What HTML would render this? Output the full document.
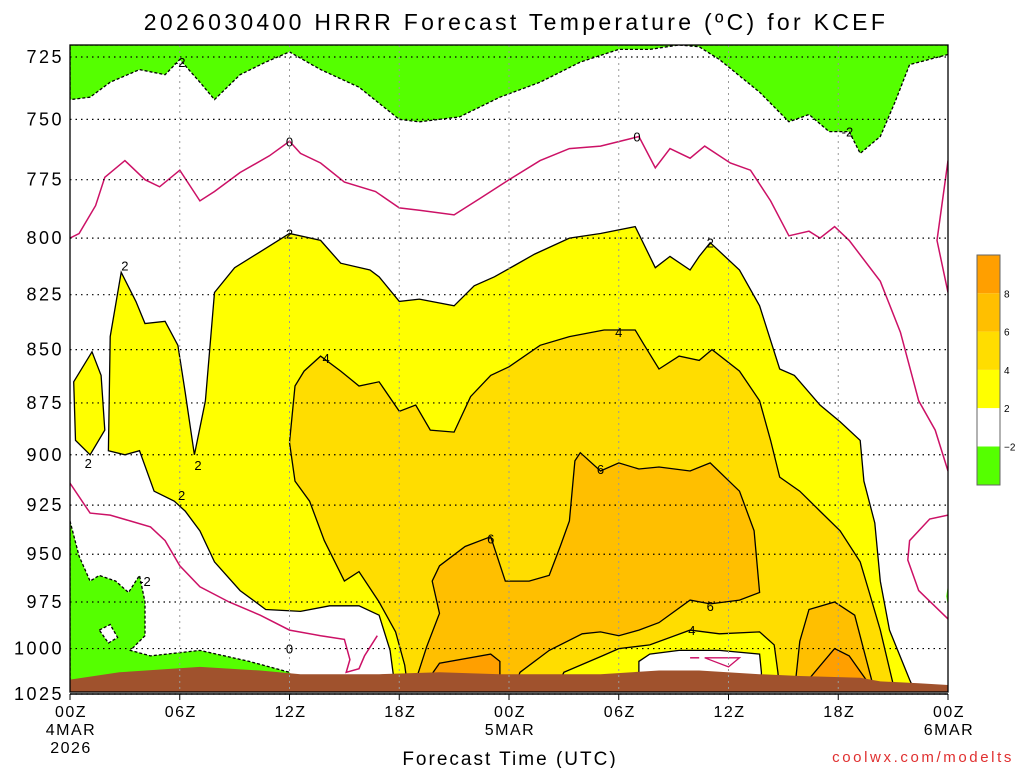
<!DOCTYPE html>
<html><head><meta charset="utf-8"><style>
body{margin:0;background:#fff;width:1024px;height:768px;overflow:hidden;font-family:"Liberation Sans",sans-serif}
svg text{font-family:"Liberation Sans",sans-serif}
</style></head><body>
<svg id="chart" width="1024" height="768" xmlns="http://www.w3.org/2000/svg">
<text x="516" y="30" font-size="23" text-anchor="middle" letter-spacing="3.3">2026030400 HRRR Forecast Temperature (ºC) for KCEF</text>
<text x="510" y="765" font-size="19" text-anchor="middle" letter-spacing="2">Forecast Time (UTC)</text>
<text x="1014" y="762" font-size="15" fill="#e03030" text-anchor="end" letter-spacing="2.6">coolwx.com/modelts</text>
</svg>
<script>
// ---- data (hours since 00Z 4MAR, pressure hPa) ----
const pTicks=[725,750,775,800,825,850,875,900,925,950,975,1000,1025];
const xTickHours=[0,6,12,18,24,30,36,42,48];
const xTickLabels=["00Z","06Z","12Z","18Z","00Z","06Z","12Z","18Z","00Z"];
const xTickSub=["4MAR","","","","5MAR","","","","6MAR"];
const greenTopH=[0,1.1,2.2,3.8,5.2,6,7.1,7.9,9.3,10.7,12,13.7,15.8,18,19.1,21.3,23.5,25.7,27.9,30,31.7,33.3,34.4,35.5,37.7,39.3,40.4,41.5,42.6,43.2,44.3,45.1,45.9,48];
const greenTopP=[742,741,735,730,732,726,735,742,732,727,723,730,737,750,751,749,741,735,727,722,722,720,721,726,739,751,748,755,755,764,757,743,728,724];
const zeroUpH=[0,0.5,1.4,1.9,3,4.1,4.9,6,7.1,7.9,9.3,10.9,12,12.6,13.7,15,16.7,18,19.1,21,22.4,24,25.7,27.3,29,30.6,31.1,32,32.8,33.9,34.7,36.1,37.2,38.3,39.3,40.4,41,41.8,42.6,44.3,45.4,46.4,47.3,48];
const zeroUpP=[800,798,786,774,767,775,778,771,784,780,772,765,759,764,768,776,780,787,788,790,783,775,767,762,761,758,757,770,762,766,761,768,771,784,799,797,800,795,801,819,842,874,888,908];
const zeroRightH=[48,47.4,48];
const zeroRightP=[767,801,824];
const zeroLowH=[0,1.1,2.2,3.3,4.4,5.2,6,7.1,8.7,10.4,12,13.7,15,15.3,15.1,15.8,16.1,16.8];
const zeroLowP=[914,929,930,933,936,943,956,967,975,982,990,993,995,1006,1013,1011,1004,993];
const zeroLowRH=[48,47,45.9,45.8,46.4,48];
const zeroLowRP=[930,932,943,953,969,984];
const yellowH=[17.8,17.5,16.9,15.8,14.2,12.6,10.7,9.3,7.9,7.1,6.3,5.7,4.6,3.8,3,2.1,2.2,2.8,3.6,4.1,5.2,5.9,6.3,6.8,7.4,7.7,7.9,9,10.4,12,13.7,14.8,16.4,16.9,18,19.1,21,22.1,23.2,24.3,25.4,27.3,29,30.9,32,32.8,33.9,34.4,35,36.6,37.7,38.8,39.6,41,42.1,43.2,43.4,44,44.3,44.8,45.9,46.2];
const yellowP=[1025,1001,982,977,977,980,979,969,954,938,928,923,918,898,900,898,844,815,828,838,837,848,870,900,874,844,824,813,806,798,801,811,814,817,828,827,830,821,817,812,807,800,798,795,813,808,814,808,802,814,830,859,862,876,884,893,913,934,964,990,1017,1025];
const islandH=[0.2,1.2,1.7,1.9,1.1,0.3];
const islandP=[865,851,862,888,900,893];
const gold4H=[18.5,18.3,17.8,16.9,15.8,15,13.9,13.1,12.3,12,12.3,12.8,13.7,14.8,15.8,16.9,18,18.9,19.7,21,21.9,23,24,25.7,27.3,29.2,30.9,31.4,32.2,33.3,34.4,35.1,36.6,37.7,38.3,38.8,39.9,41,42.1,43.2,43.7,44.3,45.1];
const gold4P=[1025,1009,991,975,959,964,943,923,913,894,867,860,853,860,867,865,879,876,888,889,872,862,858,848,844,841,841,848,859,853,855,850,860,874,893,911,918,928,938,954,970,990,1025];
const orange6H=[18.7,19.5,20.2,19.8,20.2,21.6,23,23.8,25.1,26.2,26.8,27.3,27.6,27.9,29,30,31.1,32.2,33.9,35,36.6,37.4,37.7,36.6,35,33.9,32.2,31.1,30,29,28,26.2,24.6,24.2];
const orange6P=[1024,999,981,964,956,946,941,964,964,961,946,933,903,899,908,904,907,906,908,904,918,938,970,974,976,974,986,990,993,991,992,1001,1013,1024];
const orangeRH=[39.6,39.9,40.4,41.8,42.9,43.4,44];
const orangeRP=[1025,996,979,975,982,1001,1025];
const inner4H=[26.5,27,29.1,30,31.7,33.9,35.5,37.7,38.5,38.7,38.8];
const inner4P=[1024,1013,1004,1000,998,990,992,991,998,1013,1024];
const inner2H=[31.1,31.1,31.7,33.3,35.5,37.7,37.8,37.8];
const inner2P=[1024,1007,1003,1001,1001,1003,1013,1024];
const loopH=[34.7,36.6,36];
const loopP=[1005,1005,1010];
const dashH=[33.9,34.4];
const dashP=[1005,1005];
const hot8aH=[19.1,20.2,23,23.5,23.5];
const hot8aP=[1024,1008,1003,1007,1024];
const hot8bH=[39.8,41.8,42.6,44];
const hot8bP=[1024,1000,1004,1024];
const greenLowH=[0,0.5,1.1,1.6,2.5,3.2,3.8,4.1,4.1,3.3,4.4,7.1,9.8,12,12.5,0];
const greenLowP=[933,951,964,961,964,970,961,975,993,1001,1004,1001,1007,1013,1024,1024];
const holeH=[1.6,2.2,2.6,2.1];
const holeP=[990,987,994,997];
const greenRH=[48,47.9,48];
const greenRP=[966,972,977];
const terrainH=[0,2.7,7.1,10.4,12.6,16.9,20.2,23.5,29,32.2,34.4,37.7,39.9,43.2,44.3,46.4,48];
const terrainP=[1017,1013,1010,1012,1014,1014,1013,1014,1014,1012,1012,1014,1015,1016,1018,1019,1020];
const labelText=["-2","-2","-2","0","0","0","2","2","2","2","2","2","4","4","4","6","6","6"];
const labelH=[6,4.1,42.5,12,31,12,3,1,7,6.1,12,35,14,30,34,23,29,35];
const labelP=[727,964,755,759,757,1000,812,904,905,920,798,802,854,842,990,942,907,977];
const legendVals=["8","6","4","2","−2"];
const legendColors=["#ff9f00","#ffbf00","#ffdd00","#ffff00","#ffffff","#55ff00"];

// ---- axes ----
const X0=70,X1=948,YT=45,YB=692;
const lnA=Math.log(725),lnB=Math.log(1025);
function xS(h){return X0+(X1-X0)*h/48;}
function yS(p){return 57+(694-57)*(Math.log(p)-lnA)/(lnB-lnA);}
const svg=document.getElementById('chart');
const NS='http://www.w3.org/2000/svg';
function mk(tag,attrs){const e=document.createElementNS(NS,tag);for(const k in attrs)e.setAttribute(k,attrs[k]);svg.appendChild(e);return e;}
function pts(H,P){return H.map((h,i)=>xS(h).toFixed(1)+','+Math.max(YT,Math.min(YB,yS(P[i]))).toFixed(1)).join(' ');}
const clip=document.createElementNS(NS,'clipPath');clip.setAttribute('id','pc');
const cr=document.createElementNS(NS,'rect');cr.setAttribute('x',X0);cr.setAttribute('y',YT);cr.setAttribute('width',X1-X0);cr.setAttribute('height',YB-YT);clip.appendChild(cr);svg.appendChild(clip);
const g=mk('g',{'clip-path':'url(#pc)'});


function poly(H,P,fill,stroke,dash,name,closeTop){
  let s=pts(H,P);
  if(closeTop){s=xS(H[H.length-1])+','+YT+' '+xS(H[0])+','+YT+' '+s;}
  const e=document.createElementNS(NS,'polygon');
  e.setAttribute('points',s);e.setAttribute('fill',fill);
  e.setAttribute('stroke',stroke);e.setAttribute('stroke-width','1.3');
  if(dash)e.setAttribute('stroke-dasharray',dash);
  
  
  g.appendChild(e);return e;}
function line(H,P,stroke,dash,name){
  const e=document.createElementNS(NS,'polyline');
  e.setAttribute('points',pts(H,P));e.setAttribute('fill','none');
  e.setAttribute('stroke',stroke);e.setAttribute('stroke-width','1.5');
  if(dash)e.setAttribute('stroke-dasharray',dash);
  
  
  g.appendChild(e);return e;}
poly(greenTopH,greenTopP,'#55ff00','#000','3,2','green-region-top',true);
poly(greenLowH,greenLowP,'#55ff00','#000','3,2','green-region-low');
poly(holeH,holeP,'#ffffff','#000','3,2','green-hole');
poly(greenRH,greenRP,'#55ff00','none','','green-region-right');
poly(islandH,islandP,'#ffff00','#000','','yellow-island');
poly(yellowH,yellowP,'#ffff00','#000','','yellow-region');
poly(gold4H,gold4P,'#ffdd00','#000','','gold-region');
poly(orange6H,orange6P,'#ffbf00','#000','','orange-region');
poly(orangeRH,orangeRP,'#ffbf00','#000','','orange-region-right');
poly(hot8aH,hot8aP,'#ff9f00','#000','','hot-region-left');
poly(hot8bH,hot8bP,'#ff9f00','#000','','hot-region-right');
poly(inner4H,inner4P,'#ffff00','#000','','inner-yellow');
poly(inner2H,inner2P,'#ffffff','#000','','inner-white');
poly(loopH,loopP,'none','#cc1166','','zero-loop');
line(dashH,dashP,'#cc1166','','zero-dash');
line(zeroUpH,zeroUpP,'#cc1166','','zero-contour-upper');
line(zeroRightH,zeroRightP,'#cc1166','','zero-contour-right');
line(zeroLowH,zeroLowP,'#cc1166','','zero-contour-lower');
line(zeroLowRH,zeroLowRP,'#cc1166','','zero-contour-lower-right');
poly(terrainH.concat([48,0]),terrainP.concat([1040,1040]),'#a0522d','none','','terrain');
// grid
pTicks.forEach((p,i)=>{const e=mk('line',{x1:X0,x2:X1,y1:yS(p),y2:yS(p),stroke:'#000','stroke-dasharray':'1.5,4','stroke-width':1.2});


const t=mk('text',{x:X0-6,y:yS(p)+6,'font-size':18,'text-anchor':'end','letter-spacing':2.5});t.textContent=p;

});
xTickHours.forEach((h,i)=>{
 if(i>0&&i<8){const e=mk('line',{x1:xS(h),x2:xS(h),y1:YT,y2:YB,stroke:'#999','stroke-dasharray':'2,4'});
 
 }
 const tk=mk('line',{x1:xS(h),x2:xS(h),y1:YB+2,y2:YB+8,stroke:'#000'});
 
 
 const t=mk('text',{x:xS(h)+1,y:717,'font-size':16,'text-anchor':'middle','letter-spacing':1.5});t.textContent=xTickLabels[i];
 
 
 if(xTickSub[i]){const s=mk('text',{x:xS(h)+1,y:735,'font-size':16,'text-anchor':'middle','letter-spacing':1.5});s.textContent=xTickSub[i];
 
 }
});
const yr=mk('text',{x:xS(0)+1,y:753,'font-size':16,'text-anchor':'middle','letter-spacing':1.5});yr.textContent='2026';


const fr=mk('rect',{x:X0,y:YT,width:X1-X0,height:YB-YT,fill:'none',stroke:'#000','stroke-width':1.3});


mk('line',{x1:X0,x2:X1,y1:YB+2,y2:YB+2,stroke:'#000','stroke-width':1.5});
// contour labels
labelText.forEach((s,i)=>{const t=mk('text',{x:xS(labelH[i]),y:yS(labelP[i])+5,'font-size':13,'text-anchor':'middle'});t.textContent=s;

});
// legend
legendColors.forEach((c,i)=>{const r=mk('rect',{x:977,y:255+i*38.3,width:23,height:38.3,fill:c,stroke:'none'});

});
const lb=mk('rect',{x:977,y:255,width:23,height:230,fill:'none',stroke:'#666'});


legendVals.forEach((v,i)=>{const t=mk('text',{x:1004,y:255+(i+1)*38.3+4,'font-size':10});t.textContent=v;

});
</script>
</body></html>
